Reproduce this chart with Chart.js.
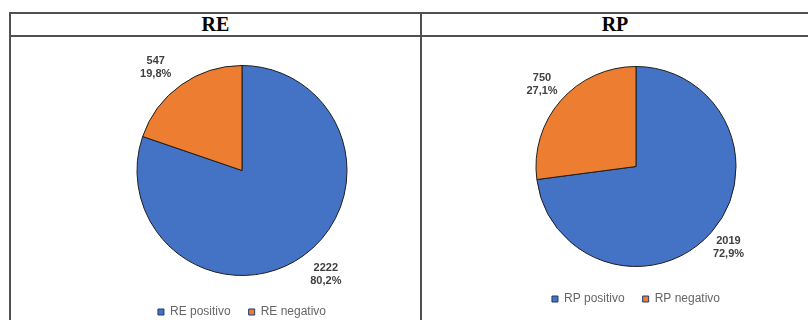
<!DOCTYPE html>
<html>
<head>
<meta charset="utf-8">
<script src="https://cdn.jsdelivr.net/npm/chart.js@4/dist/chart.umd.min.js"></script>
<style>
  html, body { margin: 0; padding: 0; background: #fff; }
  #wrap { position: relative; width: 808px; height: 320px; overflow: hidden; background: #fff; }
  .ln { position: absolute; background: #505050; }
  .hd { position: absolute; top: 13px; height: 23px; line-height: 23px; text-align: center;
        font-family: "Liberation Serif", "Times New Roman", serif; font-weight: bold; font-size: 20px; color: #000; }
  canvas { position: absolute; }
</style>
</head>
<body>
<div id="wrap">
  <div class="ln" style="left:9px;top:12px;width:805px;height:2px"></div>
  <div class="ln" style="left:9px;top:35px;width:805px;height:2px"></div>
  <div class="ln" style="left:9px;top:12px;width:2px;height:320px"></div>
  <div class="ln" style="left:420px;top:12px;width:2px;height:320px"></div>
  <div class="hd" id="h1" style="left:11px;width:409px"></div>
  <div class="hd" id="h2" style="left:422px;width:386px"></div>
  <canvas id="c1" style="left:92px;top:37px"></canvas>
  <canvas id="c2" style="left:486px;top:37px"></canvas>
</div>
<script>
// ---- data ----
const titles = ["RE", "RP"];
const reLabels = ["RE positivo", "RE negativo"];
const reValues = [2222, 547];
const reShares = ["80,2%", "19,8%"];
const rpLabels = ["RP positivo", "RP negativo"];
const rpValues = [2019, 750];
const rpShares = ["72,9%", "27,1%"];
const colors = ["#4472C4", "#ED7D31"];

document.getElementById('h1').textContent = titles[0];
document.getElementById('h2').textContent = titles[1];

const sliceLabels = {
  id: 'sliceLabels',
  afterDatasetsDraw(chart, args, opts) {
    const ctx = chart.ctx;
    const meta = chart.getDatasetMeta(0);
    const ds = chart.data.datasets[0];
    ctx.save();
    ctx.font = 'bold 11px "Liberation Sans", Arial, sans-serif';
    ctx.fillStyle = '#404040';
    ctx.textAlign = 'center';
    ctx.textBaseline = 'middle';
    meta.data.forEach((arc, i) => {
      const p = arc.getProps(['x', 'y', 'startAngle', 'endAngle', 'outerRadius'], true);
      const mid = (p.startAngle + p.endAngle) / 2 + opts.rot[i] * Math.PI / 180;
      const r = p.outerRadius * opts.dist[i];
      const x = p.x + Math.cos(mid) * r;
      const y = p.y + Math.sin(mid) * r;
      ctx.fillText(String(ds.data[i]), x, y - 6.5);
      ctx.fillText(opts.shares[i], x, y + 6.5);
    });
    ctx.restore();
  }
};

function makePie(id, w, h, padTop, labels, values, shares, dist, rot, titleGap) {
  const cv = document.getElementById(id);
  cv.width = w; cv.height = h;
  cv.style.width = w + 'px'; cv.style.height = h + 'px';
  return new Chart(cv, {
    type: 'pie',
    data: {
      labels: labels,
      datasets: [{
        data: values,
        backgroundColor: colors,
        borderColor: '#1e1e1e',
        borderWidth: 1
      }]
    },
    options: {
      responsive: false,
      animation: false,
      layout: { padding: { top: padTop, bottom: 0, left: 0, right: 0 } },
      plugins: {
        tooltip: { enabled: false },
        sliceLabels: { dist: dist, rot: rot, shares: shares },
        legend: {
          position: 'bottom',
          title: { display: true, text: ' ', font: { size: 1 }, padding: { top: titleGap, bottom: 0 } },
          labels: {
            boxWidth: 6,
            boxHeight: 6,
            padding: 18,
            color: '#383838',
            font: { family: '"Liberation Sans", Arial, sans-serif', size: 12 },
            generateLabels(chart) {
              return chart.data.labels.map((t, i) => ({
                text: t,
                fillStyle: colors[i],
                strokeStyle: '#1e3a6e',
                lineWidth: 1,
                index: i
              }));
            }
          }
        }
      }
    },
    plugins: [sliceLabels]
  });
}

makePie('c1', 300, 291, 28, reLabels, reValues, reShares, [1.27, 1.28], [-3.4, -4.4], 10.8);
makePie('c2', 300, 278, 29, rpLabels, rpValues, rpShares, [1.23, 1.25], [0, 0], 6.8);
</script>
</body>
</html>
